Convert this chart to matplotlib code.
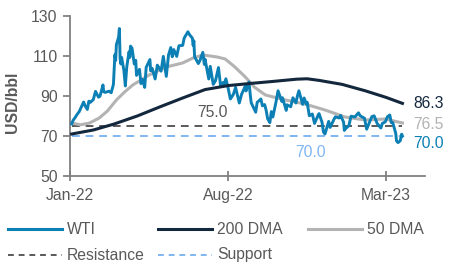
import matplotlib
matplotlib.use("Agg")
import matplotlib.pyplot as plt
import matplotlib.dates as mdates
from matplotlib.lines import Line2D
import numpy as np

# WTI (USD/bbl)
wti_dates = [
    "2022-01-03", "2022-01-05", "2022-01-07", "2022-01-11", "2022-01-13", "2022-01-19", "2022-01-21",
    "2022-01-24", "2022-01-26", "2022-01-28", "2022-02-01", "2022-02-04", "2022-02-08", "2022-02-10",
    "2022-02-14", "2022-02-15", "2022-02-17", "2022-02-22", "2022-02-25", "2022-02-28", "2022-03-01",
    "2022-03-02", "2022-03-03", "2022-03-04", "2022-03-07", "2022-03-08", "2022-03-09", "2022-03-10",
    "2022-03-11", "2022-03-14", "2022-03-16", "2022-03-18", "2022-03-21", "2022-03-22", "2022-03-23",
    "2022-03-25", "2022-03-28", "2022-03-30", "2022-03-31", "2022-04-04", "2022-04-06", "2022-04-08",
    "2022-04-11", "2022-04-13", "2022-04-18", "2022-04-19", "2022-04-21", "2022-04-25", "2022-04-28",
    "2022-05-03", "2022-05-06", "2022-05-10", "2022-05-13", "2022-05-16", "2022-05-18", "2022-05-20",
    "2022-05-24", "2022-05-27", "2022-06-01", "2022-06-03", "2022-06-08", "2022-06-10", "2022-06-14",
    "2022-06-15", "2022-06-16", "2022-06-17", "2022-06-22", "2022-06-24", "2022-06-28", "2022-06-30",
    "2022-07-01", "2022-07-06", "2022-07-08", "2022-07-12", "2022-07-15", "2022-07-19", "2022-07-22",
    "2022-07-25", "2022-07-26", "2022-07-29", "2022-08-01", "2022-08-04", "2022-08-08", "2022-08-11",
    "2022-08-16", "2022-08-19", "2022-08-24", "2022-08-25", "2022-08-29", "2022-08-31", "2022-09-01",
    "2022-09-07", "2022-09-09", "2022-09-14", "2022-09-16", "2022-09-19", "2022-09-21", "2022-09-23",
    "2022-09-26", "2022-09-28", "2022-09-30", "2022-10-04", "2022-10-07", "2022-10-12", "2022-10-13",
    "2022-10-18", "2022-10-19", "2022-10-24", "2022-10-27", "2022-10-31", "2022-11-02", "2022-11-04",
    "2022-11-09", "2022-11-11", "2022-11-14", "2022-11-15", "2022-11-18", "2022-11-22", "2022-11-25",
    "2022-11-30", "2022-12-01", "2022-12-05", "2022-12-07", "2022-12-09", "2022-12-14", "2022-12-16",
    "2022-12-21", "2022-12-23", "2022-12-28", "2022-12-30", "2023-01-03", "2023-01-04", "2023-01-06",
    "2023-01-10", "2023-01-13", "2023-01-18", "2023-01-23", "2023-01-25", "2023-01-27", "2023-01-31",
    "2023-02-03", "2023-02-07", "2023-02-10", "2023-02-13", "2023-02-17", "2023-02-22", "2023-02-24",
    "2023-02-28", "2023-03-03", "2023-03-06", "2023-03-08", "2023-03-10", "2023-03-14", "2023-03-15",
    "2023-03-17", "2023-03-20", "2023-03-22", "2023-03-23",
]
wti = [
    76.1, 77.9, 78.9, 81.2, 82.1, 87.0, 85.1,
    83.3, 87.4, 86.8, 88.2, 92.3, 89.4, 89.9,
    95.5, 92.1, 91.8, 92.4, 91.6, 95.7, 103.4,
    110.6, 107.7, 115.7, 119.4, 123.7, 108.7, 106.0,
    109.3, 103.0, 95.0, 104.7, 112.1, 109.3, 114.9,
    113.9, 106.0, 107.8, 100.3, 103.3, 96.2, 98.3,
    94.3, 104.3, 108.2, 102.6, 103.8, 98.5, 105.4,
    102.4, 109.8, 99.8, 110.5, 114.2, 109.6, 113.2,
    109.8, 115.1, 115.3, 118.9, 122.1, 120.7, 118.9,
    115.3, 117.6, 109.6, 106.2, 107.6, 111.8, 105.8,
    108.4, 98.5, 104.8, 95.8, 97.6, 104.2, 94.7,
    96.7, 95.0, 98.6, 93.9, 88.5, 90.8, 94.3,
    86.5, 90.8, 94.9, 92.5, 97.0, 89.6, 86.6,
    81.9, 86.8, 88.5, 85.1, 85.7, 82.9, 78.7,
    76.7, 82.2, 79.5, 86.5, 92.6, 87.3, 89.1,
    82.8, 85.6, 84.6, 89.1, 86.5, 90.0, 92.6,
    85.8, 89.0, 85.9, 86.9, 80.1, 81.0, 76.3,
    80.6, 81.2, 76.9, 72.0, 71.0, 77.3, 74.3,
    78.3, 79.6, 79.0, 80.3, 76.9, 72.8, 73.8,
    75.1, 79.9, 79.5, 81.6, 80.2, 79.7, 78.9,
    73.4, 77.1, 79.7, 80.1, 76.3, 74.0, 76.3,
    77.1, 79.7, 80.5, 76.7, 76.7, 71.3, 67.6,
    66.7, 67.6, 70.9, 70.0,
]

# 200-day moving average
dma200_dates = [
    "2022-01-03", "2022-02-01", "2022-03-01", "2022-04-01", "2022-05-01", "2022-06-01",
    "2022-07-01", "2022-08-01", "2022-09-01", "2022-10-01", "2022-11-01", "2022-11-15",
    "2022-12-01", "2023-01-01", "2023-02-01", "2023-03-01", "2023-03-23",
]
dma200 = [71.0, 73.0, 76.0, 80.0, 84.5, 89.0, 93.2, 95.2, 96.3, 97.3, 98.4, 98.6,
          97.8, 95.8, 92.6, 89.3, 86.3]

# 50-day moving average
dma50_dates = [
    "2022-01-03", "2022-01-15", "2022-01-27", "2022-02-09", "2022-02-20", "2022-03-04",
    "2022-03-15", "2022-03-26", "2022-04-17", "2022-05-10", "2022-06-01", "2022-06-15",
    "2022-06-28", "2022-07-17", "2022-07-28", "2022-08-10", "2022-08-24", "2022-09-05",
    "2022-09-20", "2022-10-17", "2022-11-12", "2022-12-09", "2023-01-05", "2023-02-01",
    "2023-02-28", "2023-03-23",
]
dma50 = [76.5, 75.6, 76.5, 79.0, 82.5, 88.0, 92.0, 95.5, 100.5, 104.5, 106.5, 109.0,
         110.5, 109.5, 108.5, 104.5, 99.5, 94.5, 90.5, 88.0, 86.0, 83.0, 79.5, 78.0,
         78.5, 76.5]

resistance = 75.0
support = 70.0
tick_dates = ["2022-01-01", "2022-08-01", "2023-03-01"]

# 色
c_wti = "#0c7fb4"
c_200 = "#13273d"
c_50 = "#b3b3b3"
c_res = "#595959"
c_sup = "#7fb6f2"
c_txt = "#595959"

plt.rcParams["font.family"] = ["Liberation Sans", "DejaVu Sans"]
plt.rcParams["font.size"] = 11.3

wd = np.array(wti_dates, dtype="datetime64[D]")
d200 = np.array(dma200_dates, dtype="datetime64[D]")
d50 = np.array(dma50_dates, dtype="datetime64[D]")

fig = plt.figure(figsize=(4.5, 2.7), dpi=100)
ax = fig.add_axes([0.156, 0.348, 0.788, 0.593])

ax.plot(wd, wti, color=c_wti, lw=2.1, zorder=3)
ax.plot(d200, dma200, color=c_200, lw=2.2, zorder=4)
ax.plot(d50, dma50, color=c_50, lw=2.2, zorder=2)
ax.plot([wd[0], wd[-1]], [resistance, resistance], color=c_res, lw=1.4, ls=(0, (4, 3)), zorder=1)
ax.plot([wd[0], wd[-1]], [support, support], color=c_sup, lw=1.4, ls=(0, (4, 3)), zorder=1)

# ラベル
ax.text(np.datetime64("2022-07-11"), resistance + 6.5, f"{resistance:.1f}", color=c_res,
        ha="center", va="center")
ax.text(np.datetime64("2022-11-20"), support - 8, f"{support:.1f}", color=c_sup,
        ha="center", va="center")
ax.annotate(f"{dma200[-1]:.1f}", (d200[-1], dma200[-1]), xytext=(8, 0),
            textcoords="offset points", color=c_200, va="center")
ax.annotate(f"{dma50[-1]:.1f}", (d50[-1], dma50[-1]), xytext=(8, -1),
            textcoords="offset points", color=c_50, va="center")
ax.annotate(f"{wti[-1]:.1f}", (wd[-1], wti[-1]), xytext=(8, -5.5),
            textcoords="offset points", color=c_wti, va="center")

ax.set_ylim(50, 130)
ax.set_yticks([50, 70, 90, 110, 130])
ax.set_xlim(np.datetime64("2022-01-01"), np.datetime64("2023-04-22"))
ax.set_xticks(np.array(tick_dates, dtype="datetime64[D]"))
ax.xaxis.set_major_formatter(mdates.DateFormatter("%b-%y"))

for s in ["top", "right"]:
    ax.spines[s].set_visible(False)
for s in ["left", "bottom"]:
    ax.spines[s].set_color("#808080")
    ax.spines[s].set_linewidth(1.3)
ax.tick_params(axis="y", colors="#808080", labelcolor=c_txt, length=5, width=1.3, pad=4)
ax.tick_params(axis="x", colors="#808080", labelcolor=c_txt, direction="inout", length=7,
               width=1.3, pad=5)

fig.text(12 / 450, 1 - 102 / 270, "USD/bbl", rotation=90, ha="center", va="center",
         color=c_txt, fontweight="bold")

# 凡例（手動配置）
def legend_entry(x, y, label, color, ls="-", lw=2.2):
    xf0, xf1 = x / 450, (x + 54) / 450
    yf = 1 - y / 270
    fig.add_artist(Line2D([xf0, xf1], [yf, yf], color=color, ls=ls, lw=lw,
                          transform=fig.transFigure))
    fig.text((x + 59) / 450, yf, label, color=c_txt, va="center", ha="left")

legend_entry(8, 229, "WTI", c_wti)
legend_entry(158, 229, "200 DMA", c_200)
legend_entry(308, 229, "50 DMA", c_50)
legend_entry(8, 255, "Resistance", c_res, ls=(0, (3, 2.5)), lw=1.4)
legend_entry(158, 255, "Support", c_sup, ls=(0, (3, 2.5)), lw=1.4)

plt.savefig("out.png", dpi=100)
